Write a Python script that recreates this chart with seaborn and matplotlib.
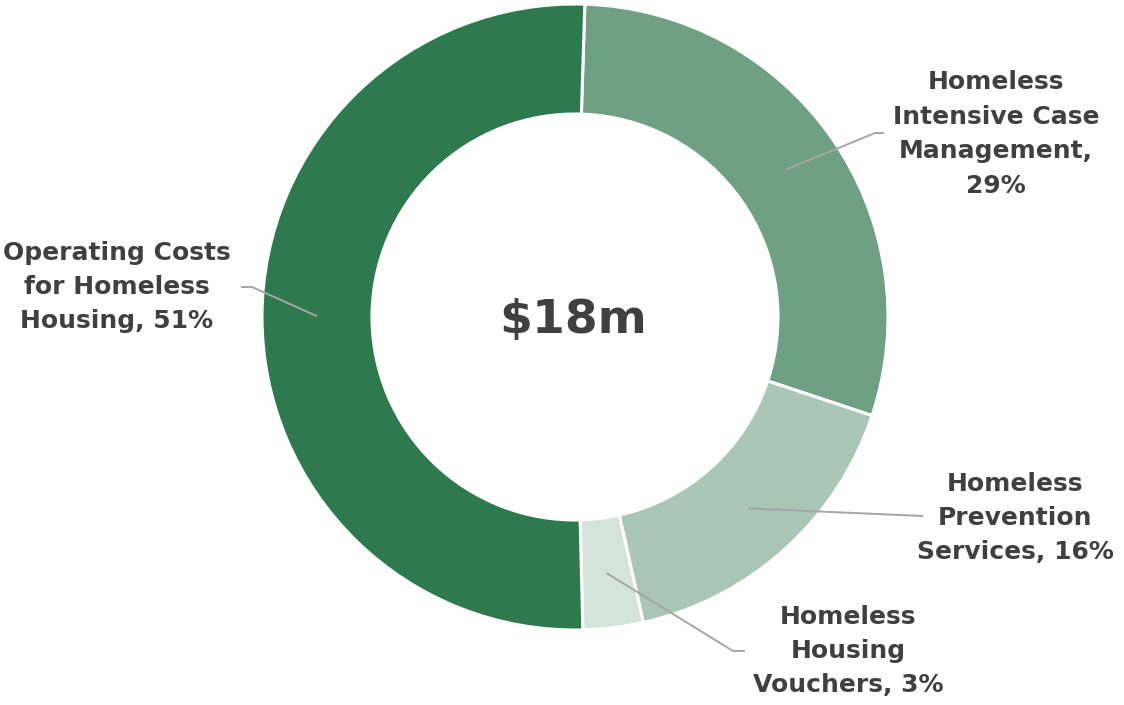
import numpy as np
import seaborn as sns
import matplotlib.pyplot as plt

# ========== 数据 ==========
categories = ["Homeless Intensive Case Management", "Homeless Prevention Services",
              "Homeless Housing Vouchers", "Operating Costs for Homeless Housing"]
shares = [29.6, 16.4, 3.1, 50.9]
labels = ["Homeless\nIntensive Case\nManagement,\n29%",
          "Homeless\nPrevention\nServices, 16%",
          "Homeless\nHousing\nVouchers, 3%",
          "Operating Costs\nfor Homeless\nHousing, 51%"]
total_label = "$18m"
colors = ["#6FA084", "#AAC6B6", "#D5E4DB", "#2E7A4E"]

# ========== 画布 ==========
sns.set_theme(style="white")
plt.rcParams['font.family'] = ['DejaVu Sans']
text_color = "#404040"

fig = plt.figure(figsize=(11.24, 7.05), dpi=100)
ax = fig.add_axes([0, 0, 1, 1])

cx, cy, r_out, ring = 575, 388, 313, 110
wedges, _ = ax.pie(shares, colors=colors, startangle=88.2, counterclock=False,
                   center=(cx, cy), radius=r_out, frame=True,
                   wedgeprops=dict(width=ring, edgecolor="white", linewidth=2.2))
ax.set_xlim(0, 1124)
ax.set_ylim(0, 705)
ax.set_aspect('equal')
ax.axis('off')

# 中心文字
ax.text(573, 385, total_label, ha="center", va="center", fontsize=34,
        fontweight="bold", color=text_color)

# 标签位置与引导线拐点
label_pos = [(996, 571), (1015, 187), (848, 54), (117, 418)]
elbows = [[(875, 572), (884, 572)], [(923, 189)], [(733, 54), (745, 54)],
          [(252, 418), (241, 418)]]
r_mid = r_out - ring / 2
for w, lab, pos, elb in zip(wedges, labels, label_pos, elbows):
    ang = np.deg2rad((w.theta1 + w.theta2) / 2)
    p0 = (cx + r_mid * np.cos(ang), cy + r_mid * np.sin(ang))
    xs = [p0[0]] + [e[0] for e in elb]
    ys = [p0[1]] + [e[1] for e in elb]
    ax.plot(xs, ys, color="#A6A6A6", lw=1.4, solid_capstyle="butt")
    ax.text(pos[0], pos[1], lab, ha="center", va="center", fontsize=18,
            fontweight="bold", color=text_color, linespacing=1.55)

plt.savefig("out.png", dpi=100)
plt.close()
